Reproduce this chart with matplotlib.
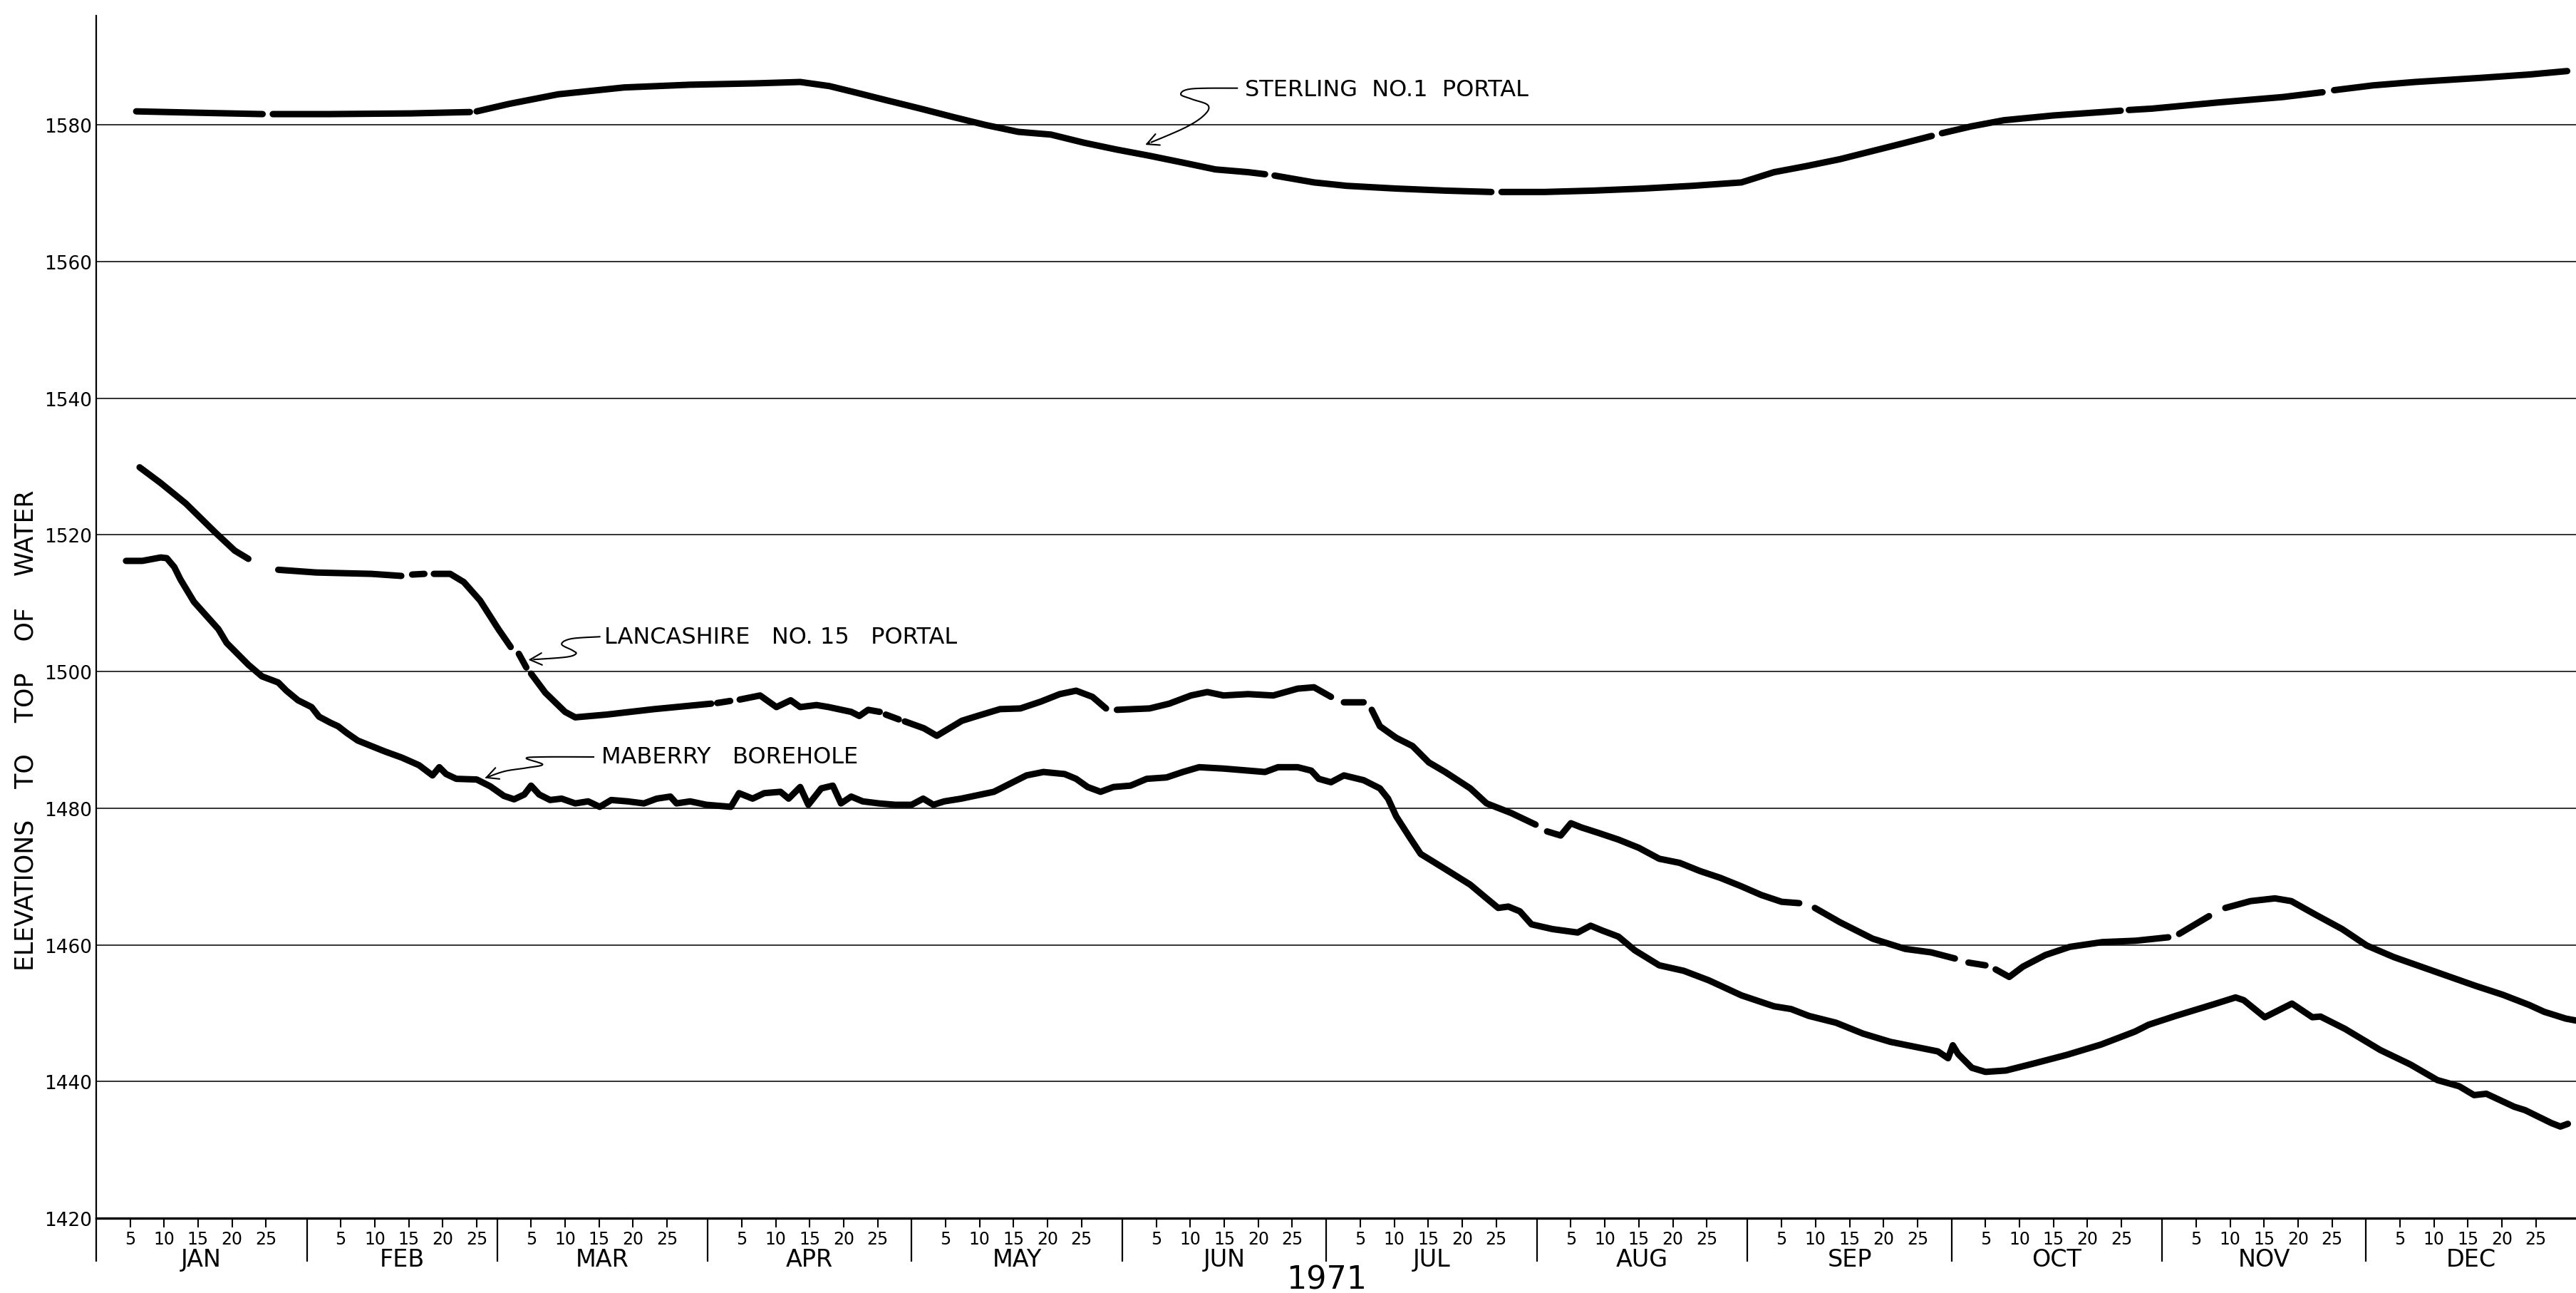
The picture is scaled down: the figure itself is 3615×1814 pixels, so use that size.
import numpy as np
import matplotlib
matplotlib.use("Agg")
from matplotlib import pyplot as plt
from matplotlib.ticker import FixedLocator, FixedFormatter, NullFormatter

nan = np.nan

# day of year (Jan 1 = 1) and water elevation, nan = pen lifted
sterling_day = [5.9, 14.9, 24.5, nan, 26.0, 34.2, 46.3, 55.0, nan, 56.0, 60.8, 68.0, 77.7,
                87.4, 97.0, 103.6, 107.9, 111.6, 116.4, 121.3, 126.0, 130.9, 135.7, 140.5,
                145.4, 150.2, 155.0, 159.9, 164.7, 169.5, 172.0, nan, 173.4, 179.2, 184.0,
                191.3, 198.5, 205.3, nan, 206.8, 213.1, 220.3, 227.6, 234.9, 242.1, 246.9,
                251.7, 256.6, 261.4, 266.2, 270.1, nan, 271.6, 275.9, 280.7, 288.0, 295.2,
                297.9, nan, 299.1, 302.5, 312.2, 321.8, 327.6, nan, 329.3, 335.0, 341.2,
                350.8, 358.1, 363.6]
sterling_val = [1582.0, 1581.8, 1581.6, nan, 1581.6, 1581.6, 1581.7, 1581.9, nan, 1582.0,
                1583.1, 1584.5, 1585.5, 1585.9, 1586.1, 1586.3, 1585.7, 1584.8, 1583.6,
                1582.4, 1581.2, 1580.0, 1579.0, 1578.6, 1577.4, 1576.4, 1575.5, 1574.5,
                1573.5, 1573.1, 1572.8, nan, 1572.6, 1571.6, 1571.1, 1570.7, 1570.4,
                1570.2, nan, 1570.2, 1570.2, 1570.4, 1570.7, 1571.1, 1571.6, 1573.1,
                1574.0, 1575.0, 1576.2, 1577.4, 1578.4, nan, 1578.8, 1579.8, 1580.7,
                1581.4, 1581.9, 1582.1, nan, 1582.2, 1582.4, 1583.3, 1584.1, 1584.8, nan,
                1585.1, 1585.8, 1586.3, 1586.9, 1587.4, 1587.9]

lanc_day = [6.4, 9.5, 13.2, 17.6, 20.4, 22.4, nan, 25.2, nan, 26.8, 32.4, 40.5, 44.9, nan,
            46.5, 48.3, nan, 49.7, 52.1, 54.1, 56.5, 59.2, 61.0, nan, 62.2, 63.3, nan, 64.0,
            66.1, 69.0, 70.5, 75.1, 82.1, 90.5, nan, 91.4, 93.3, nan, 94.7, 97.7, 100.1,
            102.2, 103.6, 106.0, 107.8, 111.1, 112.3, 113.6, 115.3, nan, 116.2, 118.1, nan,
            119.0, 121.8, 123.7, 127.4, 130.0, 133.0, 136.0, 139.0, 141.8, 144.2, 146.6,
            148.6, nan, 150.2, 155.0, 157.9, 161.1, 163.5, 165.9, 169.5, 173.2, 176.8, 179.2,
            181.7, nan, 183.6, 186.5, nan, 187.7, 188.9, 191.3, 193.7, 196.1, 198.5, 202.2,
            204.6, 208.2, 211.8, nan, 213.5, 215.5, 217.0, 218.5, 221.0, 224.0, 227.0, 230.0,
            233.0, 236.0, 239.0, 242.0, 245.0, 248.0, 250.6, nan, 252.9, 256.6, 261.4, 266.2,
            270.0, 273.5, nan, 275.5, 278.0, nan, 279.5, 281.5, 283.5, 286.8, 290.4, 295.2,
            300.1, 304.9, nan, 306.5, 310.9, nan, 313.3, 317.0, 320.6, 323.0, 326.6, 330.5,
            334.1, 338.1, 342.1, 346.1, 350.1, 354.1, 358.0, 360.2, 363.4, 365.0]
lanc_val = [1529.9, 1527.6, 1524.6, 1520.3, 1517.7, 1516.5, nan, 1515.4, nan, 1514.9, 1514.5,
            1514.3, 1514.0, nan, 1514.2, 1514.3, nan, 1514.3, 1514.3, 1513.1, 1510.4, 1506.2,
            1503.6, nan, 1502.6, 1500.6, nan, 1499.7, 1496.9, 1494.1, 1493.3, 1493.7, 1494.5,
            1495.3, nan, 1495.4, 1495.7, nan, 1495.9, 1496.5, 1494.8, 1495.8, 1494.8, 1495.1,
            1494.8, 1494.1, 1493.5, 1494.4, 1494.1, nan, 1493.7, 1493.0, nan, 1492.7, 1491.7,
            1490.6, 1492.8, 1493.6, 1494.5, 1494.6, 1495.6, 1496.7, 1497.2, 1496.3, 1494.6, nan,
            1494.4, 1494.6, 1495.3, 1496.5, 1497.0, 1496.5, 1496.7, 1496.5, 1497.5, 1497.7,
            1496.3, nan, 1495.5, 1495.5, nan, 1494.4, 1492.0, 1490.3, 1489.1, 1486.7, 1485.3,
            1482.9, 1480.7, 1479.3, 1477.6, nan, 1476.6, 1476.0, 1477.8, 1477.2, 1476.4,
            1475.4, 1474.2, 1472.6, 1472.0, 1470.8, 1469.8, 1468.6, 1467.3, 1466.3, 1466.1, nan,
            1465.4, 1463.3, 1460.9, 1459.4, 1458.9, 1458.0, nan, 1457.4, 1457.0, nan, 1456.4,
            1455.3, 1456.8, 1458.5, 1459.7, 1460.4, 1460.6, 1461.1, nan, 1461.6, 1464.2, nan,
            1465.4, 1466.4, 1466.8, 1466.4, 1464.4, 1462.3, 1459.9, 1458.2, 1456.8, 1455.4,
            1454.0, 1452.7, 1451.2, 1450.2, 1449.2, 1448.9]

mab_day = [4.4, 6.8, 9.5, 10.4, 11.5, 12.4, 14.4, 18.0, 19.2, 22.4, 24.4, 26.8, 28.0, 29.7,
           31.7, 32.8, 34.5, 35.6, 36.9, 38.5, 40.5, 42.5, 45.0, 47.5, 49.5, 50.5, 51.5, 53.0,
           56.0, 58.0, 60.0, 61.5, 63.0, 64.0, 65.2, 66.8, 68.5, 70.5, 72.4, 74.1, 75.8, 78.2,
           80.6, 82.5, 84.5, 85.4, 87.4, 89.8, 93.4, 94.6, 96.6, 98.3, 100.7, 101.9, 103.6,
           104.8, 106.7, 108.4, 109.6, 111.1, 112.8, 115.2, 117.6, 120.0, 121.7, 123.2, 124.8,
           127.3, 129.7, 132.1, 134.5, 136.9, 139.4, 142.5, 144.2, 145.9, 147.8, 149.7, 152.2,
           154.6, 157.5, 159.9, 162.3, 165.9, 169.5, 172.0, 173.9, 176.8, 178.8, 179.9, 181.7,
           183.6, 186.5, 188.9, 190.1, 191.3, 193.3, 194.9, 198.5, 202.2, 204.6, 206.3, 207.8,
           209.5, 211.2, 214.3, 218.0, 219.9, 221.6, 224.0, 226.4, 230.0, 233.6, 237.3, 242.1,
           244.5, 246.9, 249.4, 252.0, 256.0, 260.0, 264.0, 268.0, 271.0, 272.5, 273.2, 274.0,
           276.0, 278.0, 281.0, 285.0, 290.0, 295.0, 300.0, 302.0, 306.0, 311.6, 314.8, 316.0,
           319.1, 323.1, 326.1, 327.3, 330.9, 336.1, 340.5, 344.5, 347.7, 349.9, 351.7, 355.8,
           357.4, 361.3, 362.6, 363.7]
mab_val = [1516.2, 1516.2, 1516.7, 1516.6, 1515.3, 1513.5, 1510.2, 1506.2, 1504.2, 1501.0,
           1499.3, 1498.4, 1497.2, 1495.8, 1494.8, 1493.4, 1492.5, 1492.0, 1491.0, 1489.9,
           1489.1, 1488.3, 1487.4, 1486.3, 1484.8, 1486.0, 1485.0, 1484.3, 1484.2, 1483.2,
           1481.8, 1481.3, 1482.0, 1483.3, 1482.0, 1481.2, 1481.4, 1480.7, 1481.0, 1480.2,
           1481.2, 1481.0, 1480.7, 1481.4, 1481.7, 1480.7, 1481.0, 1480.5, 1480.2, 1482.2,
           1481.4, 1482.2, 1482.4, 1481.4, 1483.1, 1480.5, 1482.9, 1483.3, 1480.7, 1481.7,
           1481.0, 1480.7, 1480.5, 1480.5, 1481.4, 1480.5, 1481.0, 1481.4, 1481.9, 1482.4,
           1483.6, 1484.8, 1485.3, 1485.0, 1484.3, 1483.1, 1482.4, 1483.1, 1483.3, 1484.3,
           1484.5, 1485.3, 1486.0, 1485.8, 1485.5, 1485.3, 1486.0, 1486.0, 1485.5, 1484.3,
           1483.8, 1484.8, 1484.1, 1482.9, 1481.4, 1478.8, 1475.7, 1473.3, 1471.1, 1468.8,
           1466.8, 1465.4, 1465.6, 1464.9, 1463.0, 1462.3, 1461.8, 1462.8, 1462.1, 1461.2,
           1459.2, 1457.0, 1456.2, 1454.8, 1452.6, 1451.8, 1451.0, 1450.6, 1449.6, 1448.6,
           1447.0, 1445.8, 1445.0, 1444.4, 1443.4, 1445.3, 1444.0, 1442.0, 1441.4, 1441.6,
           1442.6, 1443.9, 1445.4, 1447.3, 1448.3, 1449.6, 1451.3, 1452.3, 1451.9, 1449.4,
           1451.4, 1449.4, 1449.5, 1447.7, 1444.6, 1442.5, 1440.2, 1439.3, 1438.0, 1438.2,
           1436.3, 1435.8, 1433.9, 1433.4, 1433.8]

months = ["JAN", "FEB", "MAR", "APR", "MAY", "JUN", "JUL", "AUG", "SEP", "OCT", "NOV", "DEC"]
month_start = [0, 31, 59, 90, 120, 151, 181, 212, 243, 273, 304, 334]
month_len = [31, 28, 31, 30, 31, 30, 31, 31, 30, 31, 30, 31]
day_marks = [5, 10, 15, 20, 25]
elev_ticks = [1420, 1440, 1460, 1480, 1500, 1520, 1540, 1560, 1580]

# label text, text anchor and leader path (day, elevation), arrow at the last point
labels = [
    ("STERLING  NO.1  PORTAL", (169.0, 1585.2),
     [(167.9, 1585.4), (161.2, 1585.3), (159.6, 1584.5), (161.2, 1583.8), (163.6, 1582.9),
      (163.1, 1581.5), (160.2, 1579.6), (154.1, 1577.0)]),
    ("LANCASHIRE   NO. 15   PORTAL", (74.8, 1505.1),
     [(74.1, 1505.1), (69.9, 1504.8), (68.5, 1504.0), (70.1, 1503.1), (70.6, 1502.6),
      (69.0, 1502.1), (63.3, 1501.7)]),
    ("MABERRY   BOREHOLE", (74.4, 1487.6),
     [(73.2, 1487.5), (65.7, 1487.5), (63.3, 1487.3), (65.7, 1486.4), (63.3, 1485.9),
      (60.1, 1485.4), (57.2, 1484.4)]),
]

narrow = ["Liberation Sans Narrow", "DejaVu Sans"]
plt.rcParams["font.family"] = narrow


def smooth(pts, n=12):
    # Catmull-Rom through the leader points, only for the hand-drawn look
    p = np.array(pts, dtype=float)
    p = np.vstack([p[0], p, p[-1]])
    out = []
    for i in range(1, len(p) - 2):
        p0, p1, p2, p3 = p[i - 1], p[i], p[i + 1], p[i + 2]
        for t in np.linspace(0, 1, n, endpoint=False):
            out.append(0.5 * ((2 * p1) + (-p0 + p2) * t + (2 * p0 - 5 * p1 + 4 * p2 - p3) * t * t
                              + (-p0 + 3 * p1 - 3 * p2 + p3) * t ** 3))
    out.append(p[-2])
    return np.array(out)


fig = plt.figure(figsize=(36.16, 18.15), dpi=100)
ax = fig.add_axes([0.0373, 0.0579, 0.9627, 0.9294])

for d, v in [(sterling_day, sterling_val), (lanc_day, lanc_val), (mab_day, mab_val)]:
    ax.plot(d, v, color="black", lw=6.5, solid_capstyle="round", solid_joinstyle="round",
            zorder=3)

ax.set_xlim(0, 365)
ax.set_ylim(1420, 1596)
ax.set_yticks(elev_ticks)
ax.set_yticklabels([str(t) for t in elev_ticks], fontsize=19)
ax.yaxis.grid(True, color="#222222", lw=1.3)
ax.tick_params(axis="y", length=0, pad=4)

ax.xaxis.set_major_locator(FixedLocator(month_start))
ax.xaxis.set_major_formatter(NullFormatter())
minor_pos = [m + d for m in month_start for d in day_marks]
ax.xaxis.set_minor_locator(FixedLocator(minor_pos))
ax.xaxis.set_minor_formatter(FixedFormatter([str(d) for m in month_start for d in day_marks]))
ax.tick_params(axis="x", which="major", length=44, width=1.6, direction="out")
ax.tick_params(axis="x", which="minor", length=9, width=1.5, direction="out", pad=3,
               labelsize=17)

for s in ["top", "right"]:
    ax.spines[s].set_visible(False)
ax.spines["left"].set_linewidth(1.6)
ax.spines["bottom"].set_linewidth(2.4)

for name, m, n in zip(months, month_start, month_len):
    ax.text(m + n / 2, 1414.0, name, ha="center", va="center", fontsize=24,
            family="DejaVu Sans", clip_on=False)
ax.text(181, 1411.0, "1971", ha="center", va="center", fontsize=32, clip_on=False)

ax.set_ylabel("ELEVATIONS    TO    TOP    OF    WATER", fontsize=25, family="DejaVu Sans")
ax.yaxis.set_label_coords(-0.0235, 0.406)

for text, pos, path in labels:
    ax.text(pos[0], pos[1], text, ha="left", va="center", fontsize=23)
    c = smooth(path)
    ax.plot(c[:-3, 0], c[:-3, 1], color="black", lw=1.5)
    ax.annotate("", xy=tuple(c[-1]), xytext=tuple(c[-4]),
                arrowprops=dict(arrowstyle="->", lw=1.5, mutation_scale=30, color="black"))

fig.savefig("out.png", dpi=100)
